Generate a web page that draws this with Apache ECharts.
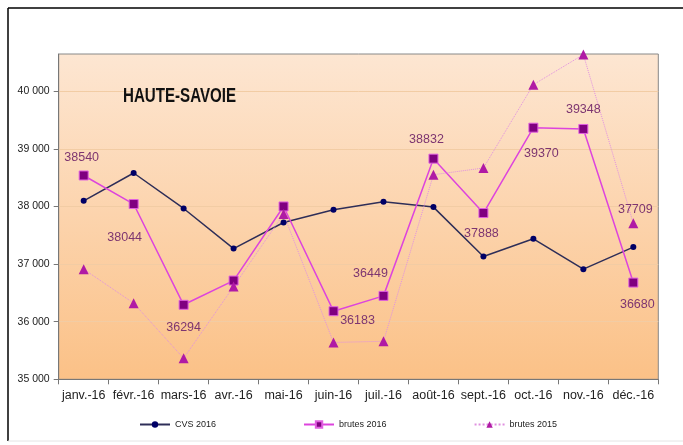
<!DOCTYPE html>
<html>
<head>
<meta charset="utf-8">
<script src="https://cdn.jsdelivr.net/npm/echarts@6/dist/echarts.min.js"></script>
<style>
  html, body { margin: 0; padding: 0; background: #fff; }
  #main { width: 683px; height: 445px; }
</style>
</head>
<body>
<div id="main"></div>
<script>
// donnees
var months = ['janv.-16', 'févr.-16', 'mars-16', 'avr.-16', 'mai-16', 'juin-16', 'juil.-16', 'août-16', 'sept.-16', 'oct.-16', 'nov.-16', 'déc.-16'];
var cvs2016 = [38100, 38583, 37967, 37271, 37723, 37944, 38085, 37991, 37132, 37440, 36913, 37296];
var brutes2016 = [38540, 38044, 36294, 36715, 38002, 36183, 36449, 38832, 37888, 39370, 39348, 36680];
var brutes2015 = [36913, 36322, 35365, 36610, 37870, 35640, 35660, 38553, 38670, 40118, 40640, 37709];
var yTicks = [35000, 36000, 37000, 38000, 39000, 40000];

var font = "'Liberation Sans', Arial, sans-serif";
var labelColor = '#7d3570';

function fmt(v) {
  return String(v).replace(/\B(?=(\d{3})+(?!\d))/g, ' ');
}

// decalage des etiquettes (brutes 2016)
var offs16 = {0: [-2, -18], 1: [-9, 34], 2: [0, 23], 5: [24, 9], 6: [-13, -22], 7: [-7, -19], 8: [-2, 21], 9: [8, 26], 10: [0, -19], 11: [4, 22]};

var data16 = brutes2016.map(function (v, i) {
  var o = offs16[i];
  if (!o) return v;
  return { value: v, label: { show: true, position: 'inside', offset: o } };
});
var data15 = brutes2015.map(function (v, i) {
  if (i !== 11) return v;
  return { value: v, label: { show: true, position: 'inside', offset: [2, -14] } };
});

var myChart = echarts.init(document.getElementById('main'));
var option = {
  animation: false,
  textStyle: { fontFamily: font },
  graphic: [
    { type: 'line', shape: { x1: 8, y1: 8, x2: 683, y2: 8 }, style: { stroke: '#000', lineWidth: 1.5 } },
    { type: 'line', shape: { x1: 8, y1: 8, x2: 8, y2: 441 }, style: { stroke: '#000', lineWidth: 1.5 } },
    { type: 'line', shape: { x1: 8, y1: 441, x2: 683, y2: 441 }, style: { stroke: '#e4e4e4', lineWidth: 1 } },
    { type: 'rect', z: -1, shape: { x: 58.7, y: 54, width: 599.6, height: 325.3 },
      style: { fill: new echarts.graphic.LinearGradient(0, 0, 0, 1, [
        { offset: 0, color: '#fde6d2' }, { offset: 1, color: '#fbc187' }]) } },
    { type: 'text', x: 123, y: 86, z: 10, scaleX: 0.72,
      style: { text: 'HAUTE-SAVOIE', font: "bold 21px " + font, fill: '#111' } }
  ],
  grid: { left: 58.7, right: 24.7, top: 54, bottom: 65.7, show: true, borderColor: '#888', borderWidth: 1, backgroundColor: 'transparent' },
  legend: {
    bottom: 11, left: 134,
    itemWidth: 30, itemHeight: 8, itemGap: 87,
    textStyle: { fontSize: 9, color: '#222', fontFamily: font },
    data: ['CVS 2016', 'brutes 2016', 'brutes 2015']
  },
  xAxis: {
    type: 'category',
    data: months,
    axisLine: { lineStyle: { color: '#777' } },
    axisTick: { show: true, length: 5, lineStyle: { color: '#777' } },
    axisLabel: { fontSize: 12.5, color: '#222', margin: 10, interval: 0 },
    splitLine: { show: false }
  },
  yAxis: {
    type: 'value',
    min: 35000,
    max: 40650,
    interval: 1000,
    axisLine: { show: true, lineStyle: { color: '#777' } },
    axisTick: { show: true, length: 5, lineStyle: { color: '#777' }, customValues: yTicks },
    axisLabel: { fontSize: 10.5, color: '#222', margin: 9, formatter: fmt, customValues: yTicks },
    splitLine: { show: true, lineStyle: { color: '#f2cca4', width: 1 } }
  },
  series: [
    {
      name: 'CVS 2016', type: 'line', data: cvs2016,
      symbol: 'circle', symbolSize: 6,
      itemStyle: { color: '#000066' },
      lineStyle: { color: '#2e2e58', width: 1.5 }
    },
    {
      name: 'brutes 2016', type: 'line', data: data16,
      symbol: 'rect', symbolSize: 9,
      itemStyle: { color: '#800080', borderColor: '#e060e0', borderWidth: 1 },
      lineStyle: { color: '#dd44dd', width: 1.5 },
      label: { show: false, fontSize: 12.5, color: labelColor, fontFamily: font }
    },
    {
      name: 'brutes 2015', type: 'line', data: data15,
      symbol: 'triangle', symbolSize: 10,
      itemStyle: { color: '#b01aa5' },
      lineStyle: { color: '#e090e0', width: 1, type: 'dotted' },
      label: { show: false, fontSize: 12.5, color: labelColor, fontFamily: font }
    }
  ]
};
myChart.setOption(option);
</script>
</body>
</html>
